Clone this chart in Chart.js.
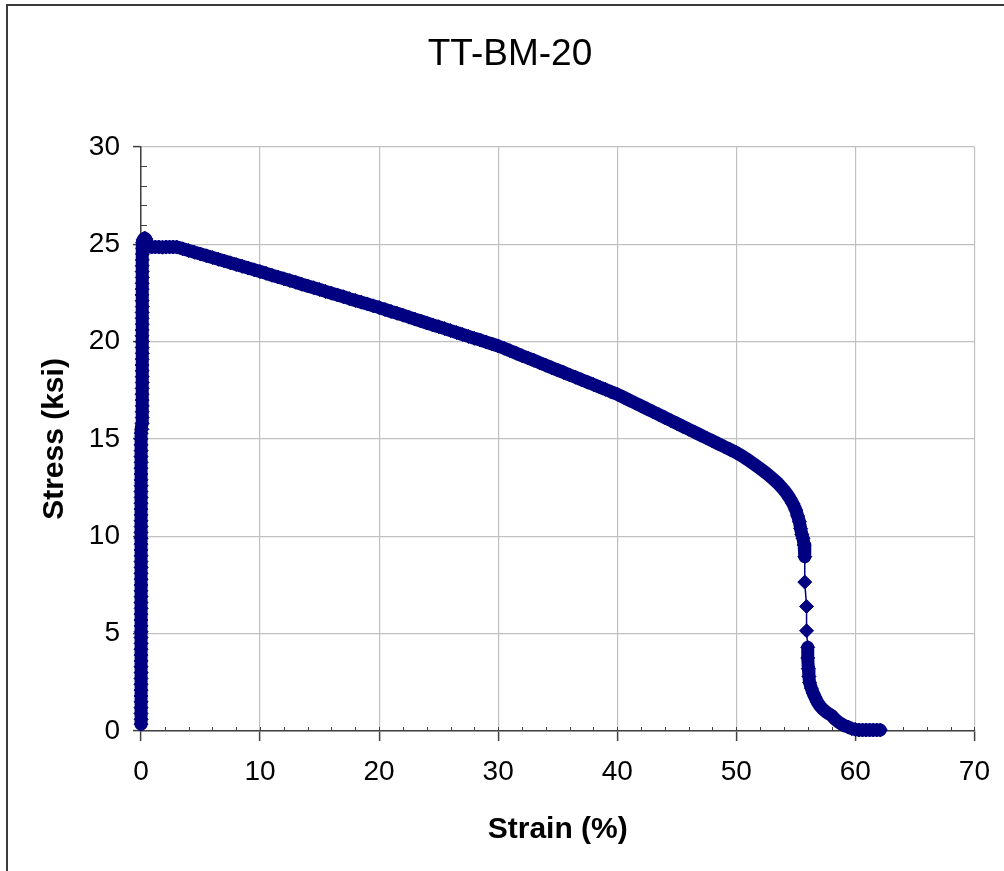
<!DOCTYPE html>
<html>
<head>
<meta charset="utf-8">
<title>TT-BM-20</title>
<script src="https://cdn.jsdelivr.net/npm/chart.js@4/dist/chart.umd.min.js"></script>
<style>
  html, body { margin: 0; padding: 0; background: #fff; overflow: hidden; }
  #wrap { position: relative; width: 1004px; height: 871px; }
</style>
</head>
<body>
<div id="wrap"><canvas id="chart" width="1004" height="871"></canvas></div>
<script>
// axis ranges / tick steps
const xTicks = [0, 10, 20, 30, 40, 50, 60, 70];
const yTicks = [0, 5, 10, 15, 20, 25, 30];

// elastic part (near vertical at ~0 % strain)
const elasticStrain = [
  0.00, 0.01, 0.00, 0.00, 0.01, 0.00, 0.01, 0.00, 0.00, 0.01,
  0.00, 0.01, 0.00, 0.00, 0.01, 0.00, 0.01, 0.01, 0.00, 0.00,
  0.01, 0.00, 0.01, 0.00, 0.00, 0.01, 0.00, 0.01, 0.00, 0.01,
  0.00, 0.00, 0.01, 0.00, 0.01, 0.00, 0.01, 0.00, 0.00, 0.01,
  0.00, 0.01, 0.01, 0.00, 0.00, 0.01, 0.00, 0.01, 0.00, 0.01,
  0.02,
  0.08, 0.09, 0.10, 0.10, 0.11, 0.10, 0.09, 0.10, 0.11, 0.10,
  0.10, 0.09, 0.10, 0.11, 0.10, 0.10, 0.09, 0.10, 0.11, 0.10,
  0.10, 0.11, 0.10, 0.09, 0.10, 0.10, 0.11, 0.10, 0.10, 0.11,
  0.12, 0.13, 0.15
];
const elasticStress = [
  0.35, 0.6, 0.9, 1.2, 1.5, 1.8, 2.1, 2.4, 2.7, 3.0,
  3.3, 3.6, 3.9, 4.2, 4.5, 4.8, 5.1, 5.4, 5.7, 6.0,
  6.3, 6.6, 6.9, 7.2, 7.5, 7.8, 8.1, 8.4, 8.7, 9.0,
  9.3, 9.6, 9.9, 10.2, 10.5, 10.8, 11.1, 11.4, 11.7, 12.0,
  12.3, 12.6, 12.9, 13.2, 13.5, 13.8, 14.1, 14.4, 14.7, 15.0,
  15.3,
  15.5, 15.8, 16.1, 16.4, 16.7, 17.0, 17.3, 17.6, 17.9, 18.2,
  18.5, 18.8, 19.1, 19.4, 19.7, 20.0, 20.3, 20.6, 20.9, 21.2,
  21.5, 21.8, 22.1, 22.4, 22.7, 23.0, 23.3, 23.6, 23.9, 24.2,
  24.5, 24.8, 25.1
];

// peak and yield plateau
const peakStrain = [0.2, 0.3, 0.4, 0.5, 0.6, 0.9, 1.2, 1.5, 1.8, 2.1, 2.4, 2.7, 3.0];
const peakStress = [25.25, 25.32, 25.28, 25.1, 24.9, 24.86, 24.86, 24.86, 24.85, 24.86, 24.86, 24.86, 24.86];

// softening branch
const softStrain = [
  3.5, 4.0, 4.5, 5.0, 5.5, 6.0, 6.5, 7.0, 7.5, 8.0, 8.5, 9.0, 9.5, 10.0,
  10.5, 11.0, 11.5, 12.0, 12.5, 13.0, 13.5, 14.0, 14.5, 15.0,
  15.5, 16.0, 16.5, 17.0, 17.5, 18.0, 18.5, 19.0, 19.5, 20.0,
  20.5, 21.0, 21.5, 22.0, 22.5, 23.0, 23.5, 24.0, 24.5, 25.0,
  25.5, 26.0, 26.5, 27.0, 27.5, 28.0, 28.5, 29.0, 29.5, 30.0,
  30.5, 31.0, 31.5, 32.0, 32.5, 33.0, 33.5, 34.0, 34.5, 35.0,
  35.5, 36.0, 36.5, 37.0, 37.5, 38.0, 38.5, 39.0, 39.5, 40.0,
  40.5, 41.0, 41.5, 42.0, 42.5, 43.0, 43.5, 44.0, 44.5, 45.0,
  45.5, 46.0, 46.5, 47.0, 47.5, 48.0, 48.5, 49.0, 49.5, 50.0
];
const softStress = [
  24.77, 24.68, 24.59, 24.50, 24.41, 24.32, 24.23, 24.14, 24.05, 23.96, 23.87, 23.78, 23.69, 23.60,
  23.51, 23.41, 23.32, 23.23, 23.14, 23.05, 22.95, 22.86, 22.77, 22.68,
  22.58, 22.49, 22.40, 22.31, 22.21, 22.12, 22.03, 21.94, 21.84, 21.75,
  21.65, 21.55, 21.46, 21.36, 21.26, 21.16, 21.06, 20.96, 20.86, 20.77,
  20.67, 20.57, 20.47, 20.37, 20.27, 20.17, 20.08, 19.98, 19.88, 19.78,
  19.66, 19.53, 19.41, 19.28, 19.16, 19.04, 18.91, 18.79, 18.66, 18.54,
  18.42, 18.29, 18.17, 18.04, 17.92, 17.80, 17.67, 17.55, 17.42, 17.30,
  17.15, 17.00, 16.85, 16.70, 16.55, 16.40, 16.25, 16.10, 15.95, 15.80,
  15.65, 15.50, 15.35, 15.20, 15.05, 14.90, 14.75, 14.60, 14.45, 14.30
];

// necking and fracture
const neckStrain = [
  50.5, 51.0, 51.5, 52.0, 52.5, 53.0, 53.5, 54.0, 54.25, 54.5, 54.75, 55.0,
  55.15, 55.3, 55.4, 55.5, 55.6, 55.7, 55.75, 55.75, 55.9, 55.9, 56.0, 56.0,
  56.05, 56.1, 56.15, 56.3, 56.45, 56.6, 56.8, 57.0, 57.3, 57.6, 58.0, 58.3,
  58.6, 59.0, 59.4, 59.7, 60.0, 60.3, 60.6, 60.9, 61.2, 61.5, 61.8, 62.1
];
const neckStress = [
  14.12, 13.92, 13.70, 13.48, 13.25, 13.00, 12.72, 12.38, 12.18, 11.95, 11.68, 11.35,
  11.05, 10.75, 10.40, 10.10, 9.90, 9.55, 8.95, 7.65, 6.40, 5.15, 4.30, 3.75,
  3.20, 2.80, 2.50, 2.20, 1.95, 1.75, 1.50, 1.30, 1.10, 0.95, 0.80, 0.60,
  0.45, 0.30, 0.20, 0.12, 0.08, 0.05, 0.05, 0.05, 0.05, 0.05, 0.05, 0.05
];

const strain = elasticStrain.concat(peakStrain, softStrain, neckStrain);
const stress = elasticStress.concat(peakStress, softStress, neckStress);
const points = strain.map((s, i) => ({ x: s, y: stress[i] }));

const NAVY = '#000080';
const AXIS = '#404040';
const FONT = "'Liberation Sans', Arial, Helvetica, sans-serif";

// outer chart frame (only top/left edges are inside the picture)
const frame = {
  id: 'frame',
  beforeDraw(chart) {
    const ctx = chart.ctx;
    ctx.save();
    ctx.strokeStyle = '#3a3a3a';
    ctx.lineWidth = 2;
    ctx.strokeRect(7, 5, 1200, 1000);
    ctx.restore();
  }
};

// small minor ticks like excel draws them
const minorTicks = {
  id: 'minorTicks',
  beforeDatasetsDraw(chart) {
    const { ctx, scales: { x, y } } = chart;
    const x0 = x.getPixelForValue(0);
    const y0 = y.getPixelForValue(0);
    ctx.save();
    ctx.strokeStyle = AXIS;
    ctx.lineWidth = 1;
    ctx.beginPath();
    for (let v = xTicks[0]; v <= xTicks[xTicks.length - 1]; v += 2) {
      const px = Math.round(x.getPixelForValue(v)) + 0.5;
      ctx.moveTo(px, y0);
      ctx.lineTo(px, y0 - 4);
    }
    for (let v = yTicks[0] + 1; v <= yTicks[yTicks.length - 1]; v += 1) {
      if (v % 5 === 0) continue;
      const py = Math.round(y.getPixelForValue(v)) + 0.5;
      ctx.moveTo(x0, py);
      ctx.lineTo(x0 + 6, py);
    }
    ctx.stroke();
    ctx.restore();
  }
};

// where markers sit close together they merge into a solid band
function segWidth(c) {
  const d = Math.hypot(c.p1.x - c.p0.x, c.p1.y - c.p0.y);
  return d < 14 ? 13 : 1.5;
}

new Chart(document.getElementById('chart'), {
  type: 'scatter',
  data: {
    datasets: [{
      label: 'TT-BM-20',
      data: points,
      showLine: true,
      borderColor: NAVY,
      backgroundColor: NAVY,
      borderWidth: 1.5,
      borderJoinStyle: 'round',
      borderCapStyle: 'round',
      segment: { borderWidth: segWidth },
      pointStyle: 'rectRot',
      pointRadius: 7,
      pointHoverRadius: 7,
      pointBorderWidth: 1,
      pointBackgroundColor: NAVY,
      pointBorderColor: NAVY,
      clip: false
    }]
  },
  options: {
    responsive: false,
    animation: false,
    events: [],
    layout: { padding: { left: 43, right: 27, top: 0, bottom: 0 } },
    plugins: {
      legend: { display: false },
      tooltip: { enabled: false },
      title: {
        display: true,
        text: 'TT-BM-20',
        color: '#000',
        font: { family: FONT, size: 37, weight: 'normal' },
        padding: { top: 33, bottom: 69.6 }
      }
    },
    scales: {
      x: {
        type: 'linear',
        min: xTicks[0],
        max: xTicks[xTicks.length - 1],
        afterBuildTicks: s => { s.ticks = xTicks.map(v => ({ value: v })); },
        afterFit: s => { s.height = 140; },
        ticks: { color: '#000', padding: 14, font: { family: FONT, size: 28 } },
        grid: { color: '#c0c0c0', lineWidth: 1.2, tickColor: AXIS, tickLength: 10, tickWidth: 1.5 },
        border: { color: AXIS, width: 1.5 },
        title: {
          display: true,
          text: 'Strain (%)',
          color: '#000',
          font: { family: FONT, size: 30, weight: 'bold' },
          padding: { top: 0, bottom: 23 }
        }
      },
      y: {
        type: 'linear',
        min: yTicks[0],
        max: yTicks[yTicks.length - 1],
        afterBuildTicks: s => { s.ticks = yTicks.map(v => ({ value: v })); },
        afterFit: s => { s.width = 98; },
        ticks: { color: '#000', padding: 13, font: { family: FONT, size: 28 } },
        grid: { color: '#c0c0c0', lineWidth: 1.2, tickColor: AXIS, tickLength: 8, tickWidth: 1.5 },
        border: { color: AXIS, width: 1.5 },
        title: {
          display: true,
          text: 'Stress (ksi)',
          color: '#000',
          font: { family: FONT, size: 30, weight: 'bold' },
          padding: { top: -6, bottom: 0 }
        }
      }
    }
  },
  plugins: [frame, minorTicks]
});
</script>
</body>
</html>
